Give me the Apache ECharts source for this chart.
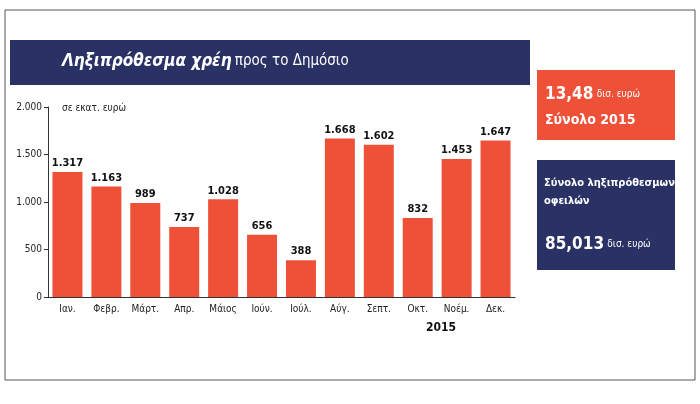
<!DOCTYPE html>
<html><head><meta charset="utf-8">
<script src="https://cdn.jsdelivr.net/npm/echarts@6/dist/echarts.min.js"></script>
<style>html,body{margin:0;background:#fff}#c{width:700px;height:404px}</style>
</head><body><div id="c"></div>
<script>
const categories=['Ιαν.','Φεβρ.','Μάρτ.','Απρ.','Μάιος','Ιούν.','Ιούλ.','Αύγ.','Σεπτ.','Οκτ.','Νοέμ.','Δεκ.'];
const values=[1317,1163,989,737,1028,656,388,1668,1602,832,1453,1647];
const yTicks=[0,500,1000,1500,2000];
const F='DejaVu Sans Condensed, DejaVu Sans';
const RED='#ef5138', NAVY='#2a3165';
const fmt=v=>v>=1000?Math.floor(v/1000)+'.'+String(v%1000).padStart(3,'0'):String(v);
const ch=echarts.init(document.getElementById('c'));
ch.setOption({
 animation:false,
 grid:{left:48,right:185,top:107,bottom:107},
 xAxis:{type:'category',data:categories,axisTick:{show:false},
  axisLine:{lineStyle:{color:'#333'}},
  axisLabel:{interval:0,color:'#222',fontFamily:F,fontSize:10,margin:7}},
 yAxis:{type:'value',min:0,max:2000,interval:500,
  axisLine:{show:true,lineStyle:{color:'#333'}},axisTick:{show:true,length:4,lineStyle:{color:'#333'}},splitLine:{show:false},
  axisLabel:{color:'#222',fontFamily:F,fontSize:10,margin:6,formatter:v=>fmt(v)}},
 series:[{type:'bar',data:values,barWidth:30,itemStyle:{color:RED},
  label:{show:true,position:'top',fontFamily:F,fontWeight:'bold',fontSize:11,color:'#111',distance:3,formatter:p=>fmt(p.value)}}],
 graphic:[
  {type:'rect',shape:{x:5,y:10,width:690,height:370},style:{fill:'none',stroke:'#555',lineWidth:1}},
  {type:'rect',shape:{x:10,y:40,width:520,height:45},style:{fill:NAVY}},
  {type:'text',x:62,y:53,style:{rich:{a:{fill:'#fff',font:'italic bold 17px '+F},b:{fill:'#fff',font:'15px '+F}},text:'{a|Ληξιπρόθεσμα χρέη} {b|προς το Δημόσιο}'}},
  {type:'text',x:62,y:103,style:{text:'σε εκατ. ευρώ',fill:'#222',font:'10px '+F}},
  {type:'text',x:426,y:322,style:{text:'2015',fill:'#111',font:'bold 12px '+F}},
  {type:'rect',shape:{x:537,y:70,width:138,height:70},style:{fill:RED}},
  {type:'text',x:545,y:86,style:{rich:{a:{fill:'#fff',font:'bold 17px '+F},b:{fill:'#fff',font:'10px '+F}},text:'{a|13,48} {b|δισ. ευρώ}'}},
  {type:'text',x:545,y:113,style:{text:'Σύνολο 2015',fill:'#fff',font:'bold 14px '+F}},
  {type:'rect',shape:{x:537,y:160,width:138,height:110},style:{fill:NAVY}},
  {type:'text',x:544,y:174,style:{text:'Σύνολο ληξιπρόθεσμων\nοφειλών',fill:'#fff',font:'bold 11px '+F,lineHeight:18}},
  {type:'text',x:545,y:236,style:{rich:{a:{fill:'#fff',font:'bold 17px '+F},b:{fill:'#fff',font:'10px '+F}},text:'{a|85,013} {b|δισ. ευρώ}'}}
 ]
});
</script></body></html>
